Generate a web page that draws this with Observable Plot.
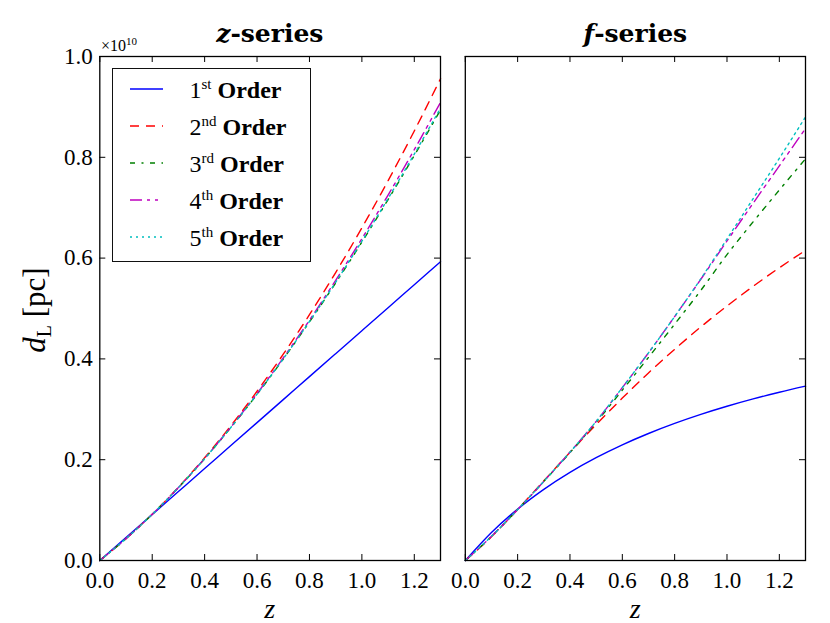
<!DOCTYPE html>
<html>
<head>
<meta charset="utf-8">
<script src="https://cdn.jsdelivr.net/npm/d3@7"></script>
<script src="https://cdn.jsdelivr.net/npm/@observablehq/plot@0.6"></script>
<style>
  body { margin: 0; background: #fff; }
  #fig { position: relative; width: 830px; height: 623px; overflow: hidden; font-family: "Liberation Serif", serif; color: #000; }
  .plot { position: absolute; top: 0; }
  .plot text { font-family: "Liberation Serif", serif; }
  .title { position: absolute; top: 19px; width: 341px; text-align: center; font-family: "DejaVu Serif", serif; font-weight: bold; font-size: 25px; line-height: 30px; white-space: nowrap; }
  .xlabel { position: absolute; top: 597px; width: 341px; text-align: center; font-style: italic; font-size: 28px; line-height: 24px; }
  .ylabel { position: absolute; left: -65px; top: 295px; width: 200px; height: 30px; text-align: center; font-size: 31px; line-height: 30px; transform: rotate(-90deg); transform-origin: 100px 15px; white-space: nowrap; }
  .ylabel sub { font-size: 20px; vertical-align: -6px; line-height: 0; }
  .mult { position: absolute; left: 101px; top: 37px; font-size: 16px; line-height: 18px; white-space: nowrap; }
  .mult sup { font-size: 11px; vertical-align: 6px; line-height: 0; }
  #legend { position: absolute; left: 112px; top: 68px; width: 199px; height: 194px; box-sizing: border-box; border: 1.5px solid #111; background: #fff; }
  .lrow { position: absolute; left: 76.5px; font-size: 24px; line-height: 24px; white-space: nowrap; }
  .lrow sup { font-size: 15px; vertical-align: 9px; line-height: 0; }
  .lrow b { font-weight: bold; }
  .swatch { position: absolute; left: 16.5px; width: 33px; height: 10px; }
</style>
</head>
<body>
<div id="fig"></div>
<script>
// ---- data (units of 1e10 pc) ----
const zValues = [0, 0.1, 0.2, 0.3, 0.4, 0.5, 0.6, 0.7, 0.8, 0.9, 1.0, 1.1, 1.2, 1.3];
const orders = ["1st", "2nd", "3rd", "4th", "5th"];
const orderNums = ["1", "2", "3", "4", "5"];
const orderSups = ["st", "nd", "rd", "th", "th"];

const zFirst  = [0, 0.0456, 0.0912, 0.1368, 0.1824, 0.2280, 0.2736, 0.3192, 0.3648, 0.4104, 0.4560, 0.5016, 0.5472, 0.5928];
const zSecond = [0, 0.0434, 0.0918, 0.1453, 0.2038, 0.2673, 0.3358, 0.4093, 0.4878, 0.5714, 0.6600, 0.7536, 0.8522, 0.9559];
const zThird  = [0, 0.0434, 0.0916, 0.1445, 0.2020, 0.2638, 0.3297, 0.3996, 0.4734, 0.5508, 0.6318, 0.7161, 0.8035, 0.8939];
const zFourth = [0, 0.0434, 0.0916, 0.1447, 0.2024, 0.2646, 0.3312, 0.4020, 0.4768, 0.5558, 0.6386, 0.7251, 0.8152, 0.9089];
const zFifth  = [0, 0.0434, 0.0916, 0.1446, 0.2021, 0.2640, 0.3301, 0.4002, 0.4742, 0.5521, 0.6335, 0.7183, 0.8064, 0.8977];

const fFirst  = [0, 0.0556, 0.1020, 0.1412, 0.1749, 0.2040, 0.2295, 0.2520, 0.2720, 0.2899, 0.3060, 0.3206, 0.3338, 0.3459];
const fSecond = [0, 0.0470, 0.1013, 0.1581, 0.2147, 0.2697, 0.3222, 0.3721, 0.4191, 0.4634, 0.5050, 0.5441, 0.5808, 0.6153];
const fThird  = [0, 0.048, 0.101, 0.157, 0.214, 0.274, 0.338, 0.403, 0.469, 0.536, 0.607, 0.672, 0.735, 0.797];
const fFourth = [0, 0.048, 0.101, 0.157, 0.215, 0.276, 0.343, 0.412, 0.484, 0.558, 0.634, 0.709, 0.783, 0.857];
const fFifth  = [0, 0.048, 0.101, 0.157, 0.215, 0.276, 0.343, 0.412, 0.484, 0.559, 0.638, 0.718, 0.798, 0.880];

const xTicks = [0, 0.2, 0.4, 0.6, 0.8, 1.0, 1.2];
const yTicks = [0, 0.2, 0.4, 0.6, 0.8, 1.0];

// ---- styles ----
const colors = ["#0000ff", "#ff0000", "#008000", "#bf00bf", "#00bfbf"];
const dashes = [null, "9,7", "5,6.5,2,6.5", "12,5,3,5,3,5", "2,4"];

const H = 623, MT = 56, MB = 63;
const FRAME_H = H - MT - MB;
const TICK = 6;
const FONT = "Liberation Serif";

function panel(series, width, marginLeft, marginRight, showY) {
  const frameW = width - marginLeft - marginRight;
  const marks = [];
  series.forEach((vals, i) => {
    const rows = vals.map((v, j) => ({z: zValues[j], d: v}));
    marks.push(Plot.line(rows, {x: "z", y: "d", stroke: colors[i], strokeWidth: 1.4,
      strokeDasharray: dashes[i], curve: "monotone-x"}));
  });
  marks.push(
    Plot.tickX(xTicks, {x: d => d, insetTop: FRAME_H - TICK, stroke: "#000", strokeWidth: 1}),
    Plot.tickX(xTicks, {x: d => d, insetBottom: FRAME_H - TICK, stroke: "#000", strokeWidth: 1}),
    Plot.tickY(yTicks, {y: d => d, insetRight: frameW - TICK, stroke: "#000", strokeWidth: 1}),
    Plot.tickY(yTicks, {y: d => d, insetLeft: frameW - TICK, stroke: "#000", strokeWidth: 1}),
    Plot.frame({stroke: "#000", strokeWidth: 1.3}),
    Plot.axisX(xTicks, {tickSize: 0, tickPadding: 11, tickFormat: d3.format(".1f"), label: null,
      fontFamily: FONT, fontSize: 23, fill: "#000"})
  );
  if (showY) marks.push(Plot.axisY(yTicks, {tickSize: 0, tickPadding: 7, tickFormat: d3.format(".1f"), label: null,
      fontFamily: FONT, fontSize: 23, fill: "#000"}));
  return Plot.plot({
    width, height: H,
    marginTop: MT, marginBottom: MB, marginLeft, marginRight,
    x: {domain: [0, 1.3]},
    y: {domain: [0, 1.0], axis: showY ? undefined : null},
    style: {fontFamily: FONT, fontSize: "23px", background: "transparent", overflow: "visible", color: "#000"},
    marks
  });
}

const fig = document.getElementById("fig");
const left = panel([zFirst, zSecond, zThird, zFourth, zFifth], 452, 99.3, 12, true);
left.classList.add("plot"); left.style.left = "0px";
const right = panel([fFirst, fSecond, fThird, fFourth, fFifth], 378, 12.8, 25, false);
right.classList.add("plot"); right.style.left = "452px";
fig.appendChild(left);
fig.appendChild(right);

function addDiv(cls, html, style) {
  const d = document.createElement("div");
  d.className = cls; d.innerHTML = html;
  Object.assign(d.style, style || {});
  fig.appendChild(d);
  return d;
}
addDiv("title", "<i>z</i>-series", {left: "99.3px"});
addDiv("title", "<i>f</i>-series", {left: "464.8px"});
addDiv("xlabel", "z", {left: "99.3px"});
addDiv("xlabel", "z", {left: "464.8px"});
addDiv("ylabel", "<i>d</i><sub>L</sub> [pc]");
addDiv("mult", "×10<sup>10</sup>");

const legend = document.createElement("div");
legend.id = "legend";
fig.appendChild(legend);
orders.forEach((o, i) => {
  const sw = document.createElementNS("http://www.w3.org/2000/svg", "svg");
  sw.setAttribute("class", "swatch");
  sw.setAttribute("width", 33); sw.setAttribute("height", 10);
  sw.style.top = (14.8 + 37 * i) + "px";
  const ln = document.createElementNS("http://www.w3.org/2000/svg", "line");
  ln.setAttribute("x1", 0); ln.setAttribute("x2", 33); ln.setAttribute("y1", 5); ln.setAttribute("y2", 5);
  ln.setAttribute("stroke", colors[i]); ln.setAttribute("stroke-width", 1.4);
  if (dashes[i]) ln.setAttribute("stroke-dasharray", dashes[i]);
  sw.appendChild(ln);
  legend.appendChild(sw);
  const t = document.createElement("div");
  t.className = "lrow";
  t.style.top = (8.7 + 37 * i) + "px";
  t.innerHTML = orderNums[i] + "<sup>" + orderSups[i] + "</sup> <b>Order</b>";
  legend.appendChild(t);
});
</script>
</body>
</html>
